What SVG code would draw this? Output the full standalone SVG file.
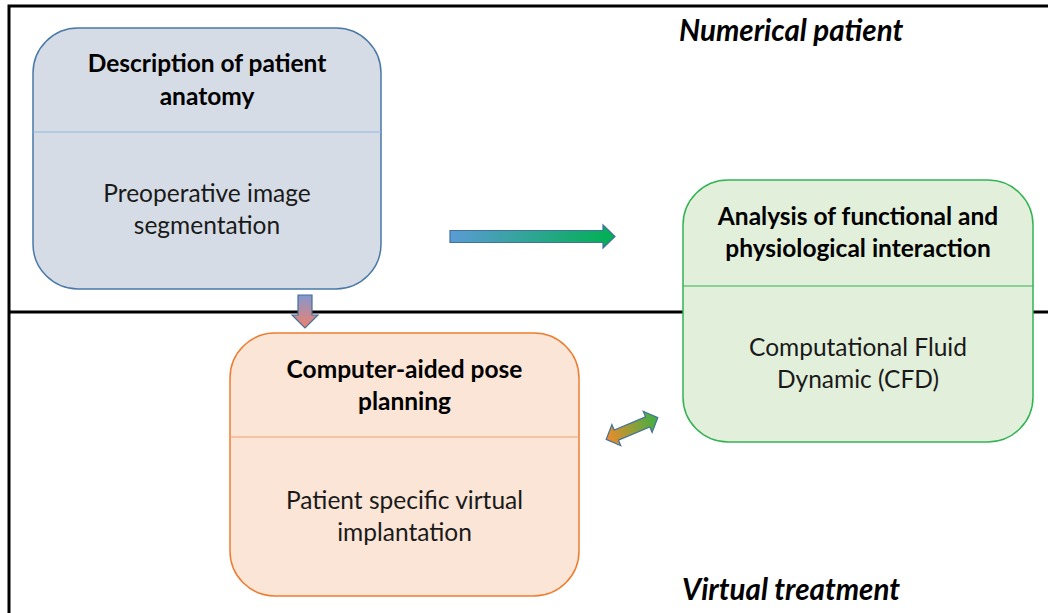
<svg xmlns="http://www.w3.org/2000/svg" width="1048" height="613" viewBox="0 0 1048 613">
<style>
.t{font-family:Lato,"Liberation Sans",sans-serif;font-size:24.5px;fill:#000;text-anchor:middle}
.b{font-weight:bold}
.s{fill:#1a1a1a}
.lbl{font-family:Lato,"Liberation Sans",sans-serif;font-size:29.5px;font-weight:bold;font-style:italic;fill:#000}
.frame{stroke:#000;stroke-width:3;fill:none}
.arr{stroke:#41719c;stroke-width:1.2}
</style>
<defs>
<linearGradient id="gR" x1="0" y1="0" x2="1" y2="0">
<stop offset="0" stop-color="#5b9bd5"/><stop offset="1" stop-color="#00b050"/>
</linearGradient>
<linearGradient id="gD" x1="0" y1="0" x2="0" y2="1">
<stop offset="0" stop-color="#8497d0"/><stop offset="1" stop-color="#f0806a"/>
</linearGradient>
<linearGradient id="gB" x1="0" y1="0" x2="1" y2="0">
<stop offset="0" stop-color="#f08a2a"/><stop offset="1" stop-color="#3cb044"/>
</linearGradient>
</defs>
<rect width="1048" height="613" fill="#fff"/>
<g id="frame">
<path class="frame" d="M9 613 V6 H1048"/>
<path class="frame" d="M9 312 H1048"/>
</g>
<text class="lbl" x="679" y="41">Numerical patient</text>
<text class="lbl" x="682" y="600">Virtual treatment</text>
<g id="connectors">
<path class="arr" fill="url(#gR)" d="M450 230.5 H603 V225 L615 236.5 L603 248 V242.5 H450 Z"/>
<path class="arr" fill="url(#gD)" d="M298 295 H312 V315 H318 L305 328 L292 315 H298 Z"/>
<path class="arr" fill="url(#gB)" transform="translate(632 428.5) rotate(-22.8)" d="M-28 0 L-17 -11.5 L-17 -5.5 L17 -5.5 L17 -11.5 L28 0 L17 11.5 L17 5.5 L-17 5.5 L-17 11.5 Z"/>
</g>
<g id="node-anatomy">
<rect x="33" y="28" width="348" height="261" rx="45" fill="#d6dce5" stroke="#4a78a8" stroke-width="1.5"/>
<line x1="33" y1="132" x2="381" y2="132" stroke="#8fb8e0" stroke-width="1"/>
<text class="t b" x="207" y="72">Description of patient</text>
<text class="t b" x="207" y="105">anatomy</text>
<text class="t s" x="207" y="202">Preoperative image</text>
<text class="t s" x="207" y="234">segmentation</text>
</g>
<g id="node-analysis">
<rect x="683" y="180" width="350" height="262" rx="45" fill="#e2efda" stroke="#34b354" stroke-width="1.5"/>
<line x1="683" y1="286" x2="1033" y2="286" stroke="#34b354" stroke-width="1"/>
<text class="t b" x="858" y="225">Analysis of functional and</text>
<text class="t b" x="858" y="257">physiological interaction</text>
<text class="t s" x="858" y="356">Computational Fluid</text>
<text class="t s" x="858" y="388">Dynamic (CFD)</text>
</g>
<g id="node-planning">
<rect x="230" y="333" width="349" height="263" rx="45" fill="#fbe5d6" stroke="#ed7d31" stroke-width="1.5"/>
<line x1="230" y1="437" x2="579" y2="437" stroke="#f4a070" stroke-width="1"/>
<text class="t b" x="404.5" y="378">Computer-aided pose</text>
<text class="t b" x="404.5" y="410">planning</text>
<text class="t s" x="404.5" y="509">Patient specific virtual</text>
<text class="t s" x="404.5" y="541">implantation</text>
</g>
</svg>
